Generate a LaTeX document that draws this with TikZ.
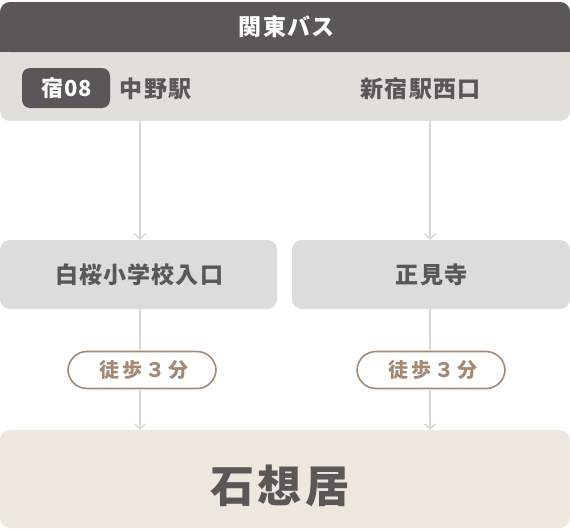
\documentclass[tikz,border=0pt]{standalone}
\usepackage{fontspec}
\setmainfont{Noto Sans CJK JP}
\newfontfamily\jpA{Noto Sans CJK JP}[LetterSpace=5]
\newfontfamily\jpW{Noto Sans CJK JP}[LetterSpace=15]
\newfontfamily\jpD{Noto Sans CJK JP}[LetterSpace=8]
\usetikzlibrary{arrows.meta}
\definecolor{dark}{HTML}{5A5758}
\definecolor{band}{HTML}{E0DFDA}
\definecolor{stopc}{HTML}{DCDCDC}
\definecolor{destc}{HTML}{EDE7DD}
\definecolor{brown}{HTML}{A48A76}
\definecolor{linec}{HTML}{D8D7D2}
\tikzset{
  lbl/.style={font=\jpA\bfseries\fontsize{23pt}{26pt}\selectfont, text=dark, inner sep=0pt},
  stopbox/.style={fill=stopc, rounded corners=10pt, minimum height=69pt, inner sep=0pt,
    font=\jpA\bfseries\fontsize{23pt}{26pt}\selectfont, text=dark},
  walkpill/.style={draw=brown, line width=1.6pt, fill=white, rounded corners=19pt,
    minimum width=148pt, minimum height=37pt, inner sep=0pt,
    font=\jpW\bfseries\fontsize{20pt}{23pt}\selectfont, text=brown},
  conn/.style={draw=linec, line width=1.4pt},
  tip/.style={-{Straight Barb[length=5pt,width=11pt,line width=1.4pt]}}
}
\begin{document}
\begin{tikzpicture}[x=1pt,y=-1pt]
\useasboundingbox (0,0) rectangle (570,530);
% header band
\fill[band, rounded corners=10pt] (0,2) rectangle (570,121);
\fill[dark, rounded corners=10pt] (0,2) rectangle (570,52);
\fill[dark] (0,36) rectangle (570,52);
\node[lbl, text=white] (hdr) at (286,27) {関東バス\kern-1.2pt};
\node[fill=dark, rounded corners=8pt, minimum width=88pt, minimum height=40pt, inner sep=0pt,
  font=\jpA\bfseries\fontsize{22pt}{25pt}\selectfont, text=white] (badge) at (66,88) {宿08\kern-1.1pt};
\node[lbl] (nakano) at (155,89) {中野駅\kern-1.2pt};
\node[lbl] (shinjuku) at (420,89) {新宿駅西口\kern-1.2pt};
% stops
\node[stopbox, minimum width=277pt] (hakuo) at (138.5,274.5) {白桜小学校入口\kern-1.2pt};
\node[stopbox, minimum width=278pt] (shoken) at (431,274.5) {正見寺\kern-1.2pt};
% destination
\node[fill=destc, rounded corners=10pt, minimum width=570pt, minimum height=98pt, inner sep=0pt] (dest) at (285,479) {};
\node[inner sep=0pt, font=\jpD\bfseries\fontsize{44pt}{48pt}\selectfont, text=dark] (destlbl) at (278,486) {石想居\kern-3.5pt};
% walking pills
\coordinate (s1) at (140,121);
\coordinate (s2) at (430,121);
\node[walkpill] (w1) at (142,370) {徒歩３分\kern-3pt};
\node[walkpill] (w2) at (431,370) {徒歩３分\kern-3pt};
% connectors
\draw[conn, tip] (s1) -- (s1 |- hakuo.north);
\draw[conn, tip] (s2) -- (s2 |- shoken.north);
\draw[conn] (s1 |- hakuo.south) -- (s1 |- w1.north);
\draw[conn] (s2 |- shoken.south) -- (s2 |- w2.north);
\draw[conn, tip] (s1 |- w1.south) -- (s1 |- dest.north);
\draw[conn, tip] (s2 |- w2.south) -- (s2 |- dest.north);
\end{tikzpicture}
\end{document}
